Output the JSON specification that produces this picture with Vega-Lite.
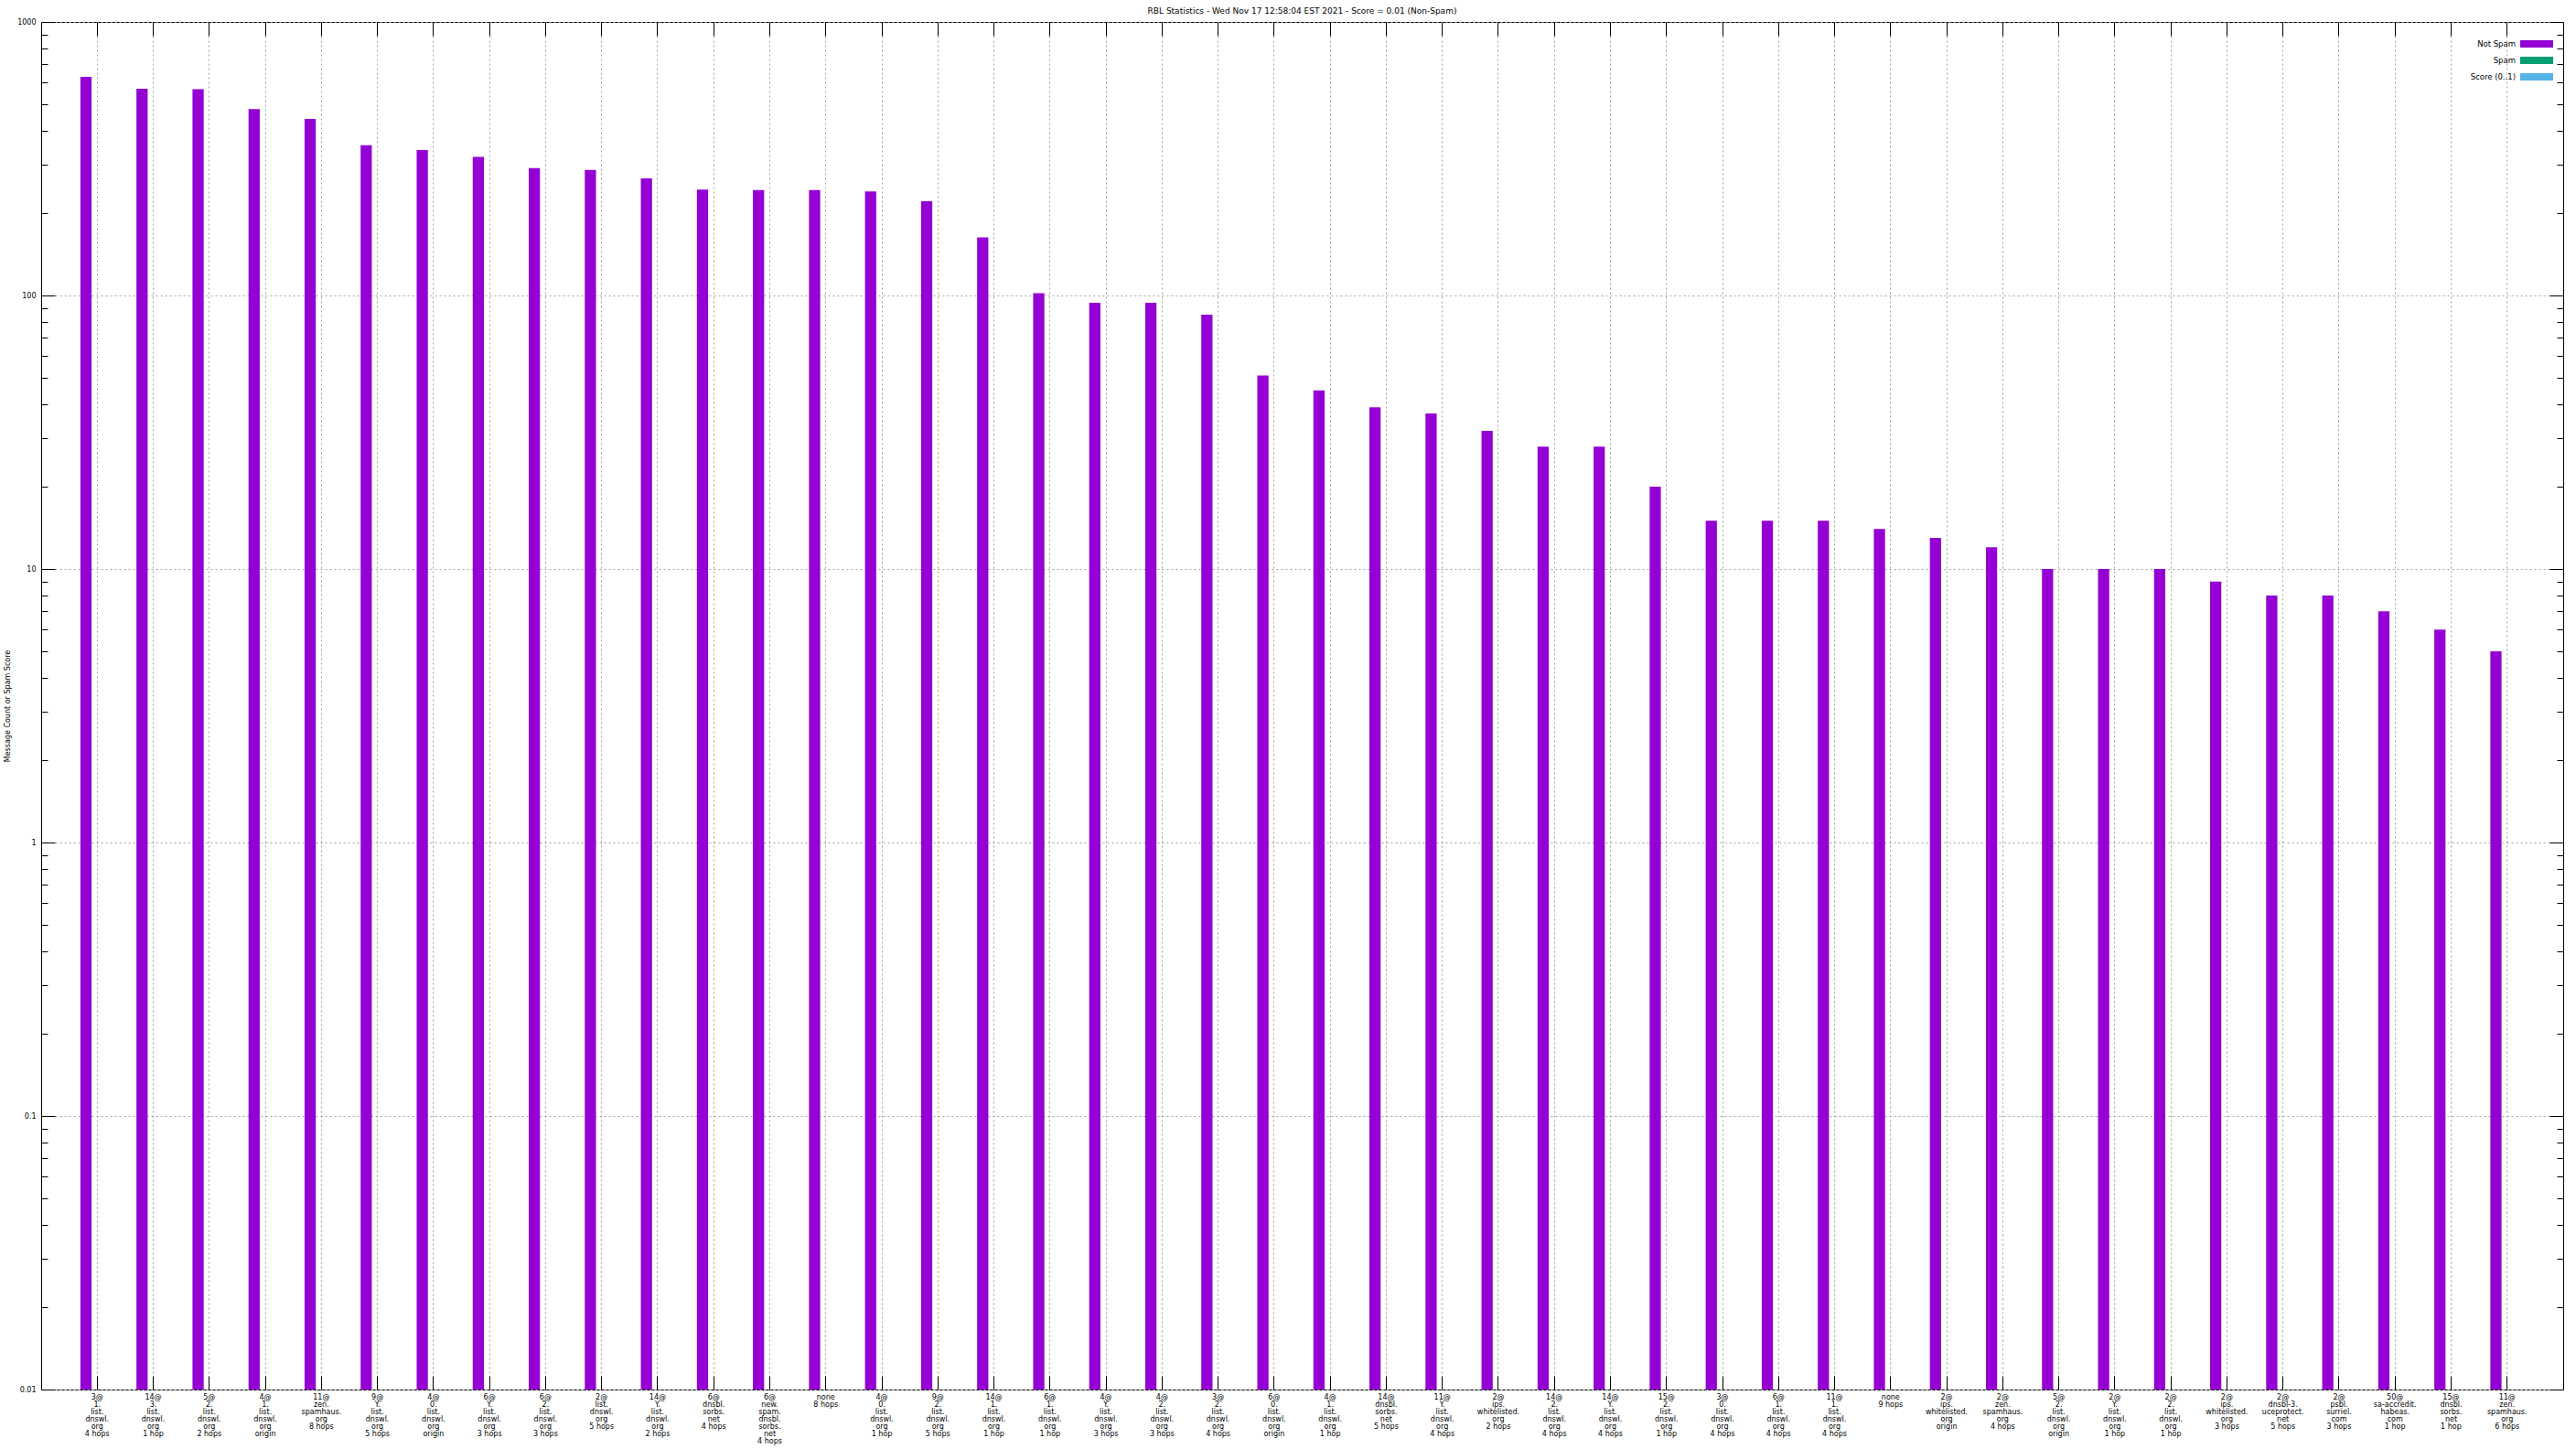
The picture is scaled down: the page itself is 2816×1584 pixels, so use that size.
{
  "$schema": "https://vega.github.io/schema/vega-lite/v6.json",
  "autosize": {"type": "none"},
  "padding": {"left": 45, "top": 24, "right": 14, "bottom": 65},
  "width": 2757,
  "height": 1495,
  "background": "white",
  "title": {"text": "RBL Statistics - Wed Nov 17 12:58:04 EST 2021 - Score = 0.01 (Non-Spam)", "anchor": "middle", "frame": "group", "font": "DejaVu Sans", "fontSize": 9, "fontWeight": "normal", "offset": 6, "dy": 12, "baseline": "bottom", "color": "black"},
  "config": {
    "view": {"stroke": "black", "strokeWidth": 1},
    "axis": {"labelColor": "black", "titleColor": "black", "tickColor": "black", "labelFont": "DejaVu Sans", "titleFont": "DejaVu Sans"}
  },
  "data": {"values": [
    {"label": "3@\n1.\nlist.\ndnswl.\norg\n4 hops", "series": "Not Spam", "count": 630},
    {"label": "14@\n3.\nlist.\ndnswl.\norg\n1 hop", "series": "Not Spam", "count": 570},
    {"label": "5@\n2.\nlist.\ndnswl.\norg\n2 hops", "series": "Not Spam", "count": 568},
    {"label": "4@\n1.\nlist.\ndnswl.\norg\norigin", "series": "Not Spam", "count": 480},
    {"label": "11@\nzen.\nspamhaus.\norg\n8 hops", "series": "Not Spam", "count": 442},
    {"label": "9@\nY.\nlist.\ndnswl.\norg\n5 hops", "series": "Not Spam", "count": 354},
    {"label": "4@\n0.\nlist.\ndnswl.\norg\norigin", "series": "Not Spam", "count": 340},
    {"label": "6@\nY.\nlist.\ndnswl.\norg\n3 hops", "series": "Not Spam", "count": 321},
    {"label": "6@\n2.\nlist.\ndnswl.\norg\n3 hops", "series": "Not Spam", "count": 292},
    {"label": "2@\nlist.\ndnswl.\norg\n5 hops", "series": "Not Spam", "count": 288},
    {"label": "14@\nY.\nlist.\ndnswl.\norg\n2 hops", "series": "Not Spam", "count": 268},
    {"label": "6@\ndnsbl.\nsorbs.\nnet\n4 hops", "series": "Not Spam", "count": 244},
    {"label": "6@\nnew.\nspam.\ndnsbl.\nsorbs.\nnet\n4 hops", "series": "Not Spam", "count": 243},
    {"label": "none\n8 hops", "series": "Not Spam", "count": 243},
    {"label": "4@\n0.\nlist.\ndnswl.\norg\n1 hop", "series": "Not Spam", "count": 240},
    {"label": "9@\n2.\nlist.\ndnswl.\norg\n5 hops", "series": "Not Spam", "count": 221},
    {"label": "14@\n1.\nlist.\ndnswl.\norg\n1 hop", "series": "Not Spam", "count": 163},
    {"label": "6@\n1.\nlist.\ndnswl.\norg\n1 hop", "series": "Not Spam", "count": 102},
    {"label": "4@\nY.\nlist.\ndnswl.\norg\n3 hops", "series": "Not Spam", "count": 94},
    {"label": "4@\n2.\nlist.\ndnswl.\norg\n3 hops", "series": "Not Spam", "count": 94},
    {"label": "3@\n2.\nlist.\ndnswl.\norg\n4 hops", "series": "Not Spam", "count": 85},
    {"label": "6@\n0.\nlist.\ndnswl.\norg\norigin", "series": "Not Spam", "count": 51},
    {"label": "4@\n1.\nlist.\ndnswl.\norg\n1 hop", "series": "Not Spam", "count": 45},
    {"label": "14@\ndnsbl.\nsorbs.\nnet\n5 hops", "series": "Not Spam", "count": 39},
    {"label": "11@\nY.\nlist.\ndnswl.\norg\n4 hops", "series": "Not Spam", "count": 37},
    {"label": "2@\nips.\nwhitelisted.\norg\n2 hops", "series": "Not Spam", "count": 32},
    {"label": "14@\n2.\nlist.\ndnswl.\norg\n4 hops", "series": "Not Spam", "count": 28},
    {"label": "14@\nY.\nlist.\ndnswl.\norg\n4 hops", "series": "Not Spam", "count": 28},
    {"label": "15@\n2.\nlist.\ndnswl.\norg\n1 hop", "series": "Not Spam", "count": 20},
    {"label": "3@\n0.\nlist.\ndnswl.\norg\n4 hops", "series": "Not Spam", "count": 15},
    {"label": "6@\n1.\nlist.\ndnswl.\norg\n4 hops", "series": "Not Spam", "count": 15},
    {"label": "11@\n1.\nlist.\ndnswl.\norg\n4 hops", "series": "Not Spam", "count": 15},
    {"label": "none\n9 hops", "series": "Not Spam", "count": 14},
    {"label": "2@\nips.\nwhitelisted.\norg\norigin", "series": "Not Spam", "count": 13},
    {"label": "2@\nzen.\nspamhaus.\norg\n4 hops", "series": "Not Spam", "count": 12},
    {"label": "5@\n2.\nlist.\ndnswl.\norg\norigin", "series": "Not Spam", "count": 10},
    {"label": "2@\nY.\nlist.\ndnswl.\norg\n1 hop", "series": "Not Spam", "count": 10},
    {"label": "2@\n2.\nlist.\ndnswl.\norg\n1 hop", "series": "Not Spam", "count": 10},
    {"label": "2@\nips.\nwhitelisted.\norg\n3 hops", "series": "Not Spam", "count": 9},
    {"label": "2@\ndnsbl-3.\nuceprotect.\nnet\n5 hops", "series": "Not Spam", "count": 8},
    {"label": "2@\npsbl.\nsurriel.\ncom\n3 hops", "series": "Not Spam", "count": 8},
    {"label": "50@\nsa-accredit.\nhabeas.\ncom\n1 hop", "series": "Not Spam", "count": 7},
    {"label": "15@\ndnsbl.\nsorbs.\nnet\n1 hop", "series": "Not Spam", "count": 6},
    {"label": "11@\nzen.\nspamhaus.\norg\n6 hops", "series": "Not Spam", "count": 5}
  ]},
  "resolve": {"scale": {"x": "shared", "y": "shared"}, "axis": {"x": "independent", "y": "independent"}},
  "layer": [
    {
      "mark": {"type": "bar"},
      "encoding": {
        "x": {"field": "label", "type": "nominal", "sort": null,
          "scale": {"paddingInner": 0, "paddingOuter": 0.5},
          "axis": {"orient": "bottom", "title": null, "ticks": false, "domain": false, "labelAngle": 0, "labelFontSize": 8, "labelLineHeight": 8, "labelPadding": 4, "labelBaseline": "top", "labelExpr": "split(datum.value, '\\n')", "labelOverlap": false, "labelBound": false, "grid": true, "gridColor": "#a0a0a0", "gridDash": [2, 3], "gridWidth": 1}},
        "xOffset": {"field": "series", "type": "nominal", "scale": {"domain": ["Not Spam", "Spam", "Score (0..1)"], "paddingInner": 0, "paddingOuter": 1}},
        "y": {"field": "count", "type": "quantitative", "stack": null, "scale": {"type": "log", "domain": [0.01, 1000], "nice": false},
          "axis": {"orient": "left", "title": "Message Count or Spam Score", "values": [0.01, 0.1, 1, 10, 100, 1000], "format": "~g", "ticks": false, "domain": false, "labelFontSize": 8, "labelPadding": 6, "titleFontSize": 8, "titleFontWeight": "normal", "titlePadding": 6, "grid": true, "gridColor": "#a0a0a0", "gridDash": [2, 3], "gridWidth": 1}},
        "color": {"field": "series", "type": "nominal",
          "scale": {"domain": ["Not Spam", "Spam", "Score (0..1)"], "range": ["#9400d3", "#009e73", "#56b4e9"]},
          "legend": {"orient": "none", "legendX": 2723, "legendY": 19, "title": null, "symbolType": "M-3.6,-0.8H3.6V0.8H-3.6Z", "symbolSize": 100, "symbolStrokeWidth": 0, "symbolOpacity": 1, "labelAlign": "right", "labelOffset": -28, "labelFont": "DejaVu Sans", "labelFontSize": 8.5, "labelColor": "black", "rowPadding": 8, "padding": 0}}
      }
    },
    {
      "mark": {"type": "bar", "opacity": 0},
      "encoding": {
        "x": {"field": "label", "type": "nominal", "sort": null,
          "axis": {"orient": "bottom", "title": null, "labels": false, "domain": false, "grid": false, "ticks": true, "tickSize": 15, "offset": -15}},
        "y": {"field": "count", "type": "quantitative", "stack": null,
          "axis": {"orient": "left", "title": null, "labels": false, "domain": false, "grid": false, "ticks": true, "tickSize": 15, "offset": -15, "values": [0.01, 0.1, 1, 10, 100, 1000]}}
      }
    },
    {
      "mark": {"type": "bar", "opacity": 0},
      "encoding": {
        "x": {"field": "label", "type": "nominal", "sort": null,
          "axis": {"orient": "top", "title": null, "labels": false, "domain": false, "grid": false, "ticks": true, "tickSize": 15, "offset": -15}},
        "y": {"field": "count", "type": "quantitative", "stack": null,
          "axis": {"orient": "right", "title": null, "labels": false, "domain": false, "grid": false, "ticks": true, "tickSize": 15, "offset": -15, "values": [0.01, 0.1, 1, 10, 100, 1000]}}
      }
    },
    {
      "mark": {"type": "bar", "opacity": 0},
      "encoding": {
        "x": {"field": "label", "type": "nominal", "sort": null, "axis": null},
        "y": {"field": "count", "type": "quantitative", "stack": null,
          "axis": {"orient": "left", "title": null, "labels": false, "domain": false, "grid": false, "ticks": true, "tickSize": 7, "offset": -7, "values": [0.02, 0.03, 0.04, 0.05, 0.06, 0.07, 0.08, 0.09, 0.2, 0.3, 0.4, 0.5, 0.6, 0.7, 0.8, 0.9, 2, 3, 4, 5, 6, 7, 8, 9, 20, 30, 40, 50, 60, 70, 80, 90, 200, 300, 400, 500, 600, 700, 800, 900]}}
      }
    },
    {
      "mark": {"type": "bar", "opacity": 0},
      "encoding": {
        "x": {"field": "label", "type": "nominal", "sort": null, "axis": null},
        "y": {"field": "count", "type": "quantitative", "stack": null,
          "axis": {"orient": "right", "title": null, "labels": false, "domain": false, "grid": false, "ticks": true, "tickSize": 7, "offset": -7, "values": [0.02, 0.03, 0.04, 0.05, 0.06, 0.07, 0.08, 0.09, 0.2, 0.3, 0.4, 0.5, 0.6, 0.7, 0.8, 0.9, 2, 3, 4, 5, 6, 7, 8, 9, 20, 30, 40, 50, 60, 70, 80, 90, 200, 300, 400, 500, 600, 700, 800, 900]}}
      }
    }
  ]
}
